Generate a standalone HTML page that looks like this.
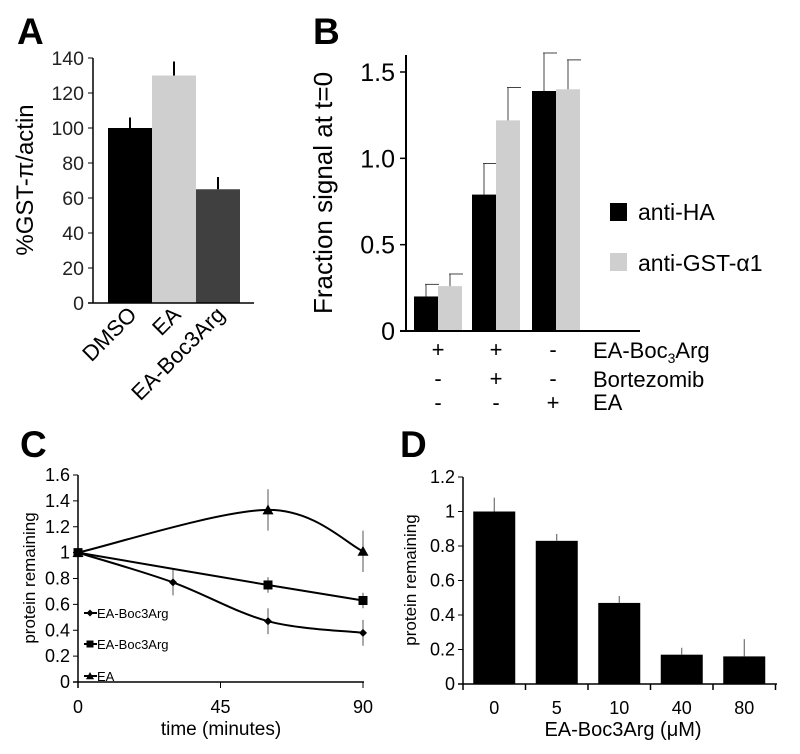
<!DOCTYPE html>
<html><head><meta charset="utf-8"><style>
html,body{margin:0;padding:0;background:#fff;}
svg{display:block;font-family:"Liberation Sans",Arial,sans-serif;}
</style></head><body>
<svg id="fig" width="800" height="754" viewBox="0 0 800 754">
<g font-weight="bold" font-size="37">
<text x="17" y="44">A</text>
<text x="313" y="44">B</text>
<text x="20" y="457">C</text>
<text x="400" y="457">D</text>
</g>
<g id="A"></g>
<g id="B"></g>
<g id="C"></g>
<g id="D"></g>
</svg>
<script>
// Panel A data
const aCats = ['DMSO','EA','EA-Boc3Arg'];
const aVals = [100,130,65];
const aErr = [6,8,7];
const aTicks = [0,20,40,60,80,100,120,140];
// Panel B data
const bGroups = ['g1','g2','g3'];
const bHA = [0.20,0.79,1.39];
const bHAerr = [0.07,0.18,0.22];
const bGST = [0.26,1.22,1.40];
const bGSTerr = [0.07,0.19,0.17];
const bTicks = [0,0.5,1.0,1.5];
const bTickLabels = ['0','0.5','1.0','1.5'];
const bRowBoc = ['+','+','-'];
const bRowBort = ['-','+','-'];
const bRowEA = ['-','-','+'];
// Panel C data
const cXTicks = [0,45,90];
const cYTicks = [0,0.2,0.4,0.6,0.8,1,1.2,1.4,1.6];
const cDiamX = [0,30,60,90];
const cDiamY = [1,0.77,0.47,0.38];
const cDiamE = [0,0.1,0.1,0.1];
const cSqX = [0,60,90];
const cSqY = [1,0.75,0.63];
const cSqE = [0,0.06,0.06];
const cTriX = [0,60,90];
const cTriY = [1,1.33,1.01];
const cTriE = [0,0.16,0.16];
// Panel D data
const dCats = ['0','5','10','40','80'];
const dVals = [1.0,0.83,0.47,0.17,0.16];
const dErr = [0.08,0.04,0.04,0.04,0.10];
const dTicks = [0,0.2,0.4,0.6,0.8,1,1.2];

const NS='http://www.w3.org/2000/svg';
function mk(parent,tag,attrs,txt){const e=document.createElementNS(NS,tag);for(const k in attrs)e.setAttribute(k,attrs[k]);if(txt!==undefined)e.textContent=txt;parent.appendChild(e);return e;}

// ---------- Panel A ----------
(function(){
const g=document.getElementById('A');
const y=v=>303-v*(245/140);
const x0=108,bw=44;
const fills=['#000','#cfcfcf','#404040'];
aVals.forEach((v,i)=>{
 const bx=x0+i*44;
 const r=mk(g,'rect',{x:bx,y:y(v),width:bw,height:303-y(v),fill:fills[i]});
 
 
 const l=mk(g,'line',{x1:bx+bw/2,x2:bx+bw/2,y1:y(v),y2:y(v+aErr[i]),stroke:'#000','stroke-width':2});
 
 
 const t=mk(g,'text',{x:bx+bw/2+8,y:316,'font-size':22,'text-anchor':'end',transform:'rotate(-45 '+(bx+bw/2+8)+' 316)'},aCats[i]);
 
 
});
mk(g,'line',{x1:93,x2:93,y1:58,y2:303,stroke:'#000','stroke-width':1.5});
mk(g,'line',{x1:88,x2:254,y1:303,y2:303,stroke:'#000','stroke-width':1.5});
aTicks.forEach(v=>{
 mk(g,'line',{x1:88,x2:93,y1:y(v),y2:y(v),stroke:'#000'});
 const t=mk(g,'text',{x:84,y:y(v)+7,'font-size':19.5,'text-anchor':'end',fill:'#222'},String(v));
 
 
});
const t=mk(g,'text',{x:33,y:180,'font-size':24,'text-anchor':'middle',transform:'rotate(-90 33 180)'},'%GST-π/actin');


})();

// ---------- Panel B ----------
(function(){
const g=document.getElementById('B');
const y=v=>331-v*(259/1.5);
const starts=[414,472,532],bw=24;
bGroups.forEach((gn,i)=>{
 [[bHA,bHAerr,'#000','ha'],[bGST,bGSTerr,'#cfcfcf','gst']].forEach((s,j)=>{
  const bx=starts[i]+j*bw;const v=s[0][i];
  const r=mk(g,'rect',{x:bx,y:y(v),width:bw,height:331-y(v),fill:s[2]});
  
  
  const cx=bx+bw/2,top=y(v+s[1][i]);
  const e=mk(g,'path',{d:`M${cx},${y(v)}V${top}M${cx-1},${top}H${cx+13}`,stroke:'#444','stroke-width':1,fill:'none'});
  
  
 });
 [[bRowBoc,357],[bRowBort,386],[bRowEA,410]].forEach(rw=>{
  const t=mk(g,'text',{x:starts[i]+bw+(i==2?-3:0),y:rw[1],'font-size':22,'text-anchor':'middle'},rw[0][i]);
  
  
 });
});
mk(g,'line',{x1:406,x2:406,y1:55,y2:331,stroke:'#000','stroke-width':2});
mk(g,'line',{x1:400,x2:640,y1:331,y2:331,stroke:'#000','stroke-width':2});
bTicks.forEach((v,i)=>{
 mk(g,'line',{x1:400,x2:406,y1:y(v),y2:y(v),stroke:'#000','stroke-width':1.5});
 const t=mk(g,'text',{x:395,y:y(v)+9,'font-size':25,'text-anchor':'end'},bTickLabels[i]);
 
 
});
const yt=mk(g,'text',{x:332,y:193,'font-size':26,'text-anchor':'middle',transform:'rotate(-90 332 193)'},'Fraction signal at t=0');


const rl=mk(g,'text',{x:593,y:358,'font-size':22});


rl.innerHTML='EA-Boc<tspan font-size="14" dy="5">3</tspan><tspan dy="-5">Arg</tspan>';
const r2=mk(g,'text',{x:593,y:387,'font-size':22},'Bortezomib');


const r3=mk(g,'text',{x:593,y:410,'font-size':22},'EA');


const lg=mk(g,'g',{});


mk(lg,'rect',{x:610,y:203,width:17,height:18,fill:'#000'});
const l1=mk(lg,'text',{x:638,y:220,'font-size':23},'anti-HA');


mk(lg,'rect',{x:610,y:253,width:17,height:18,fill:'#cfcfcf'});
const l2=mk(lg,'text',{x:638,y:271,'font-size':23},'anti-GST-α1');


})();

// ---------- Panel C ----------
(function(){
const g=document.getElementById('C');
const x=v=>78+v*(285/90);
const y=v=>682-v*(207/1.6);
mk(g,'line',{x1:78,x2:78,y1:475,y2:688,stroke:'#000','stroke-width':1.5});
mk(g,'line',{x1:73,x2:364,y1:682,y2:682,stroke:'#000','stroke-width':1.5});
cYTicks.forEach(v=>{
 mk(g,'line',{x1:73,x2:78,y1:y(v),y2:y(v),stroke:'#000'});
 const t=mk(g,'text',{x:70,y:y(v)+6,'font-size':18,'text-anchor':'end'},String(v));
 
 
});
cXTicks.forEach(v=>{
 mk(g,'line',{x1:x(v),x2:x(v),y1:682,y2:688,stroke:'#000'});
 const t=mk(g,'text',{x:x(v),y:713,'font-size':18,'text-anchor':'middle'},String(v));
 
 
});
const xt=mk(g,'text',{x:221,y:735,'font-size':19,'text-anchor':'middle'},'time (minutes)');


const yt=mk(g,'text',{x:35,y:578,'font-size':17,'text-anchor':'middle',transform:'rotate(-90 35 578)'},'protein remaining');


function spline(px,py){
 const P=px.map((v,i)=>[x(v),y(py[i])]);
 let d=`M${P[0][0]},${P[0][1]}`;
 for(let i=0;i<P.length-1;i++){
  const p0=P[i-1]||P[i],p1=P[i],p2=P[i+1],p3=P[i+2]||P[i+1];
  const c1=[p1[0]+(p2[0]-p0[0])/6,p1[1]+(p2[1]-p0[1])/6];
  const c2=[p2[0]-(p3[0]-p1[0])/6,p2[1]-(p3[1]-p1[1])/6];
  d+=`C${c1[0]},${c1[1]} ${c2[0]},${c2[1]} ${p2[0]},${p2[1]}`;
 }
 return d;
}
function marker(p,type,cx,cy,s){
 if(type==='d')return mk(p,'path',{d:`M${cx},${cy-s}L${cx+s},${cy}L${cx},${cy+s}L${cx-s},${cy}Z`,fill:'#000'});
 if(type==='s')return mk(p,'rect',{x:cx-s,y:cy-s,width:2*s,height:2*s,fill:'#000'});
 return mk(p,'path',{d:`M${cx},${cy-s}L${cx+s},${cy+s*0.8}L${cx-s},${cy+s*0.8}Z`,fill:'#000'});
}
[[cDiamX,cDiamY,cDiamE,'d',4,'diamond'],[cSqX,cSqY,cSqE,'s',4.5,'square'],[cTriX,cTriY,cTriE,'t',5.5,'triangle']].forEach(s=>{
 const sg=mk(g,'g',{});
 
 
 s[0].forEach((v,i)=>{ if(s[2][i]>0){
  const e=mk(sg,'line',{x1:x(v),x2:x(v),y1:y(s[1][i]-s[2][i]),y2:y(s[1][i]+s[2][i]),stroke:'#555','stroke-width':1});
  
  
 }});
 const ln=mk(sg,'path',{d:spline(s[0],s[1]),fill:'none',stroke:'#000','stroke-width':2});
 
 
 s[0].forEach((v,i)=>{
  const m=marker(sg,s[3],x(v),y(s[1][i]),s[4]);
  
  
 });
});
const leg=[['d',613,'EA-Boc3Arg'],['s',644,'EA-Boc3Arg'],['t',676,'EA']];
leg.forEach(l=>{
 const lg=mk(g,'g',{});
 
 
 mk(lg,'line',{x1:84,x2:97,y1:l[1],y2:l[1],stroke:'#000','stroke-width':2});
 marker(lg,l[0],90,l[1],l[0]==='t'?4:3.5);
 mk(lg,'text',{x:97,y:l[1]+5,'font-size':13},l[2]);
});
})();

// ---------- Panel D ----------
(function(){
const g=document.getElementById('D');
const y=v=>684-v*(207/1.2);
const step=62.5,bw=42,x0=463;
dVals.forEach((v,i)=>{
 const cx=x0+step*(i+0.5);
 const r=mk(g,'rect',{x:cx-bw/2,y:y(v),width:bw,height:684-y(v),fill:'#000'});
 
 
 const e=mk(g,'line',{x1:cx,x2:cx,y1:y(v),y2:y(v+dErr[i]),stroke:'#555','stroke-width':1});
 
 
 const t=mk(g,'text',{x:cx,y:714,'font-size':18,'text-anchor':'middle'},dCats[i]);
 
 
});
for(let i=0;i<=dCats.length;i++) mk(g,'line',{x1:x0+step*i,x2:x0+step*i,y1:684,y2:690,stroke:'#000','stroke-width':1.5});
mk(g,'line',{x1:463,x2:463,y1:477,y2:684,stroke:'#000','stroke-width':1.5});
mk(g,'line',{x1:458,x2:777,y1:684,y2:684,stroke:'#000','stroke-width':1.5});
dTicks.forEach(v=>{
 mk(g,'line',{x1:458,x2:463,y1:y(v),y2:y(v),stroke:'#000'});
 const t=mk(g,'text',{x:455,y:y(v)+6,'font-size':18,'text-anchor':'end'},String(v));
 
 
});
const xt=mk(g,'text',{x:623,y:736,'font-size':20,'text-anchor':'middle'},'EA-Boc3Arg (μM)');


const yt=mk(g,'text',{x:416,y:580,'font-size':17,'text-anchor':'middle',transform:'rotate(-90 416 580)'},'protein remaining');


})();
</script>
</body></html>
